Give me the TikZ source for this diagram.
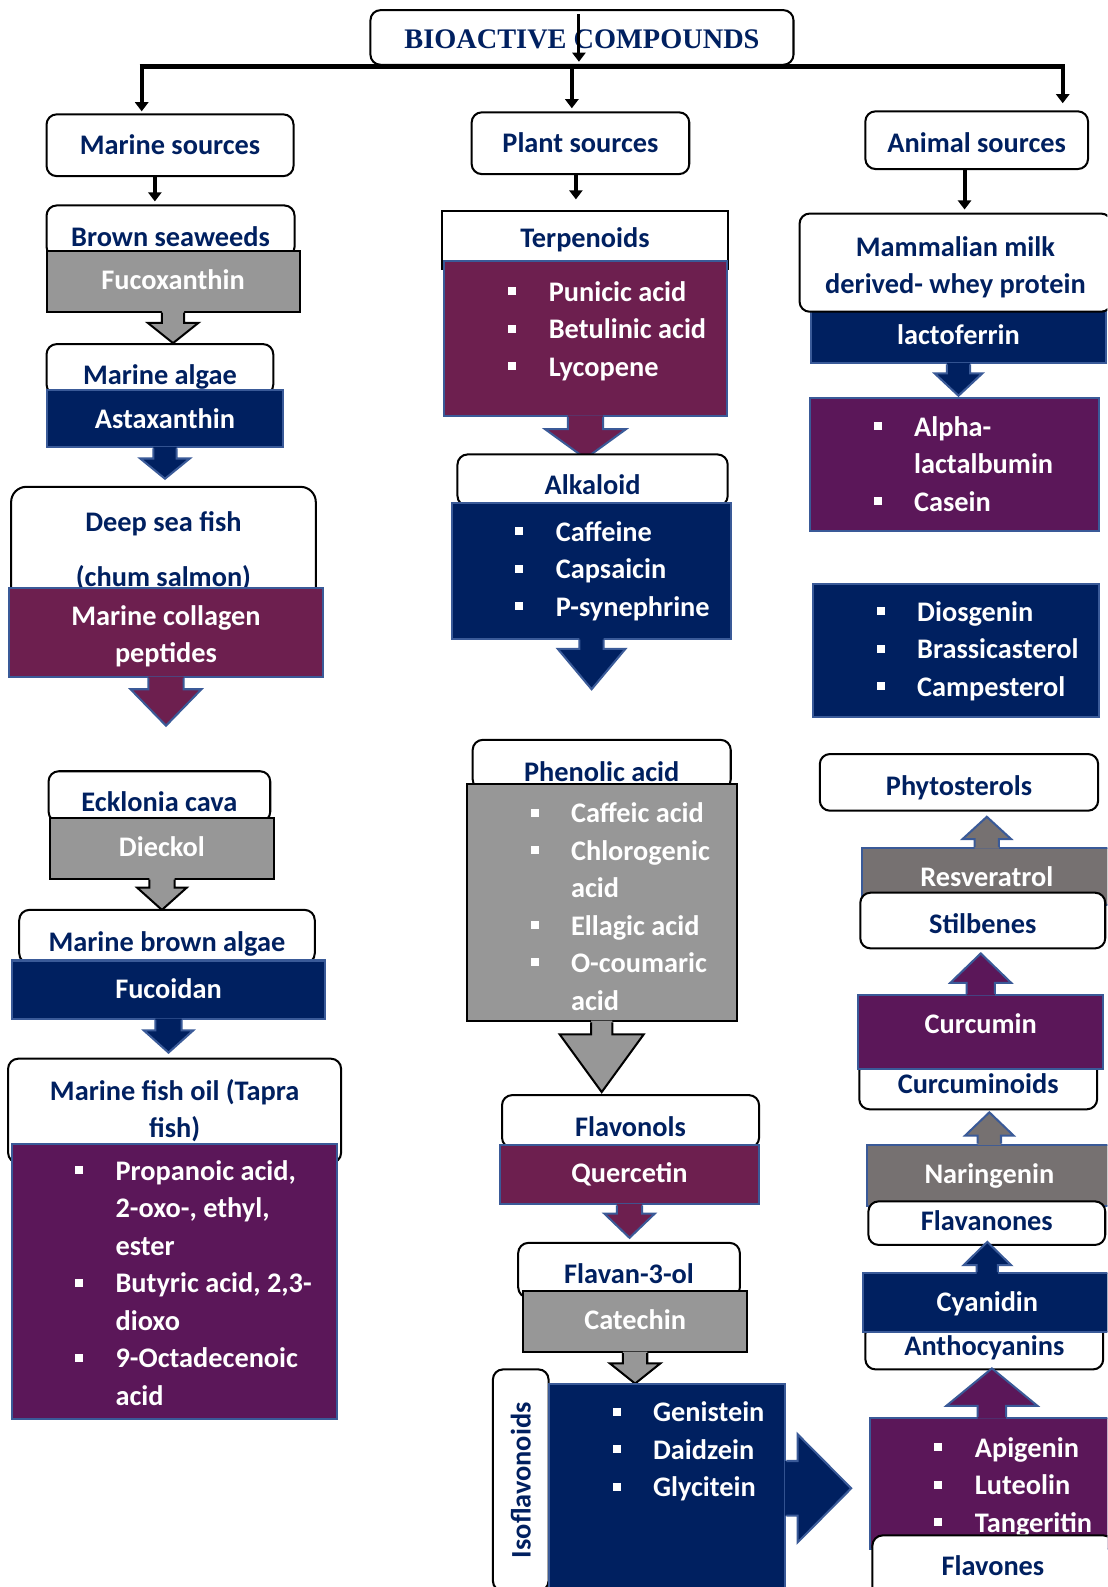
\documentclass[tikz,border=0pt]{standalone}
\usepackage{fontspec}
\setmainfont{Carlito}
\newfontfamily\titlefont{Liberation Serif}
\usetikzlibrary{arrows.meta,calc}

\definecolor{navy}{HTML}{002060}
\definecolor{bblue}{HTML}{3A5A98}
\definecolor{wine}{HTML}{6D1F4F}
\definecolor{plum}{HTML}{5B1759}
\definecolor{lgray}{HTML}{979797}
\definecolor{dgray}{HTML}{767171}

% square bullet of the lists
\newcommand{\sqb}{\rule[6pt]{8pt}{8pt}}

% box with a block arrow: start, rotation, shaft half width, shaft length, head half width, head length, fill, border
\newcommand{\calloutarrow}[8]{%
  \begin{scope}[shift={#1}, rotate=#2]
    \fill[#7] (-#3,-1.5) -- (-#3,#4) -- (-#5,#4) -- (0,#4+#6) -- (#5,#4) -- (#3,#4) -- (#3,-1.5) -- cycle;
    \draw[#8, line width=2pt, line join=miter] (-#3,0) -- (-#3,#4) -- (-#5,#4) -- (0,#4+#6) -- (#5,#4) -- (#3,#4) -- (#3,0);
  \end{scope}}

\begin{document}
\begin{tikzpicture}[x=1pt, y=-1pt,
    every node/.style={font=\bfseries\fontsize{28}{37}\selectfont, inner sep=0pt},
    wbox/.style={draw=black, line width=2pt, fill=white, rounded corners=10pt, text=navy},
    cbox/.style={draw=bblue, line width=2pt, text=white},
    gbox/.style={draw=black, line width=2pt, fill=lgray, text=white},
    hd/.style 2 args={anchor=base, text height=#1pt, text depth=#2pt},
    list/.style={anchor=west, text=white},
    link/.style={line width=4pt, -{Triangle[length=9pt,width=13pt]}}]
    \useasboundingbox (0,0) rectangle (1094,1568);
    \clip (0,0) rectangle (1094,1568);
    \fill[white] (0,0) rectangle (1094,1568);

    % Title and the three sources
    \node[wbox, hd={38}{16}, minimum width=418, font=\titlefont\bfseries\fontsize{28}{37}\selectfont] (title) at (575,48) {BIOACTIVE COMPOUNDS};
    \node[wbox, hd={40}{21}, minimum width=244] (marine) at (168,153) {Marine sources};
    \node[wbox, hd={40}{21}, minimum width=215] (plant) at (573.5,151) {Plant sources};
    \node[wbox, hd={41}{16}, minimum width=220] (animal) at (965,151) {Animal sources};

    % Marine column
    \node[wbox, hd={41}{10}, minimum width=245] (brown) at (168.5,244) {Brown seaweeds};
    \node[gbox, hd={38}{22}, minimum width=250] (fuco) at (171,286) {Fucoxanthin};
    \calloutarrow{(fuco.south)}{0}{11}{10}{25}{20}{lgray}{black}
    \node[wbox, hd={40}{10}, minimum width=224] (algae) at (158,380) {Marine algae};
    \node[cbox, fill=navy, hd={38}{19}, minimum width=234] (asta) at (163,423) {Astaxanthin};
    \calloutarrow{(asta.south)}{0}{11.5}{10}{24.5}{20}{navy}{bblue}
    \node[wbox, rounded corners=15pt, align=center, minimum width=301, minimum height=127] (deep) at (161.5,544.5) {Deep sea fish\\[18pt](chum salmon)};
    \node[cbox, fill=wine, minimum width=310, minimum height=88] (coll) at (164,625) {\raisebox{-4pt}[\height][\depth]{\begin{tabular}{@{}c@{}}Marine collagen\\peptides\end{tabular}}};
    \calloutarrow{(coll.south)}{0}{17.5}{11}{35}{36}{wine}{bblue}

    \node[wbox, hd={40}{10}, minimum width=219] (eck) at (157.5,802) {Ecklonia cava};
    \node[gbox, hd={38}{22}, minimum width=222] (dieckol) at (160,846) {Dieckol};
    \calloutarrow{(dieckol.south)}{0}{12.5}{8}{24.5}{22}{lgray}{black}
    \node[wbox, hd={41}{12}, minimum width=292] (mba) at (165,940) {Marine brown algae};
    \node[cbox, fill=navy, hd={38}{20}, minimum width=309] (fucoidan) at (166.5,987) {Fucoidan};
    \calloutarrow{(fucoidan.south)}{0}{13}{10}{24.5}{22}{navy}{bblue}
    \node[wbox, align=center, minimum width=329, minimum height=103] (fishoil) at (172.5,1097.5) {Marine fish oil (Tapra\\fish)};
    \node[cbox, fill=plum, minimum width=321, minimum height=272] (fishbox) at (172.5,1266) {};
    \node[list] (fishL) at (74,1270) {\begin{tabular}{@{}l@{\hspace{32pt}}l@{}}
        \sqb & Propanoic acid,\\ & 2-oxo-, ethyl,\\ & ester\\
        \sqb & Butyric acid, 2,3-\\ & dioxo\\
        \sqb & 9-Octadecenoic\\ & acid\end{tabular}};

    % Plant column
    \node[wbox, sharp corners, hd={37}{21}, minimum width=282] (terp) at (578,245) {Terpenoids};
    \node[cbox, fill=wine, minimum width=279, minimum height=153] (terpbox) at (578.5,334.5) {};
    \node[list] (terpL) at (502,327.5) {\begin{tabular}{@{}l@{\hspace{32pt}}l@{}}
        \sqb & Punicic acid\\ \sqb & Betulinic acid\\ \sqb & Lycopene\end{tabular}};
    \calloutarrow{(terpbox.south)}{0}{17.5}{12}{40}{29}{wine}{bblue}
    \node[wbox, hd={40}{11}, minimum width=267] (alk) at (585.5,489) {Alkaloid};
    \node[cbox, fill=navy, minimum width=275, minimum height=134] (alkbox) at (584.5,564) {};
    \node[list] (alkL) at (509,564.5) {\begin{tabular}{@{}l@{\hspace{32pt}}l@{}}
        \sqb & Caffeine\\ \sqb & Capsaicin\\ \sqb & P-synephrine\end{tabular}};
    \calloutarrow{(alkbox.south)}{0}{12}{9}{33.5}{40}{navy}{bblue}

    \node[wbox, hd={41}{8}, minimum width=255] (phen) at (594.5,772) {Phenolic acid};
    \node[gbox, minimum width=267, minimum height=234] (phenbox) at (594.5,892) {};
    \node[list] (phenL) at (524,898) {\begin{tabular}{@{}l@{\hspace{32pt}}l@{}}
        \sqb & Caffeic acid\\ \sqb & Chlorogenic\\ & acid\\
        \sqb & Ellagic acid\\ \sqb & O-coumaric\\ & acid\end{tabular}};
    \calloutarrow{(phenbox.south)}{0}{10.5}{12}{41.5}{57}{lgray}{black}
    \node[wbox, hd={41}{11}, minimum width=254] (flavonols) at (623,1123) {Flavonols};
    \node[cbox, fill=wine, hd={37}{22}, minimum width=256] (querc) at (622,1168) {Quercetin};
    \calloutarrow{(querc.south)}{0}{12.5}{8}{25}{24}{wine}{bblue}
    \node[wbox, hd={40}{14}, minimum width=219] (flavan) at (621.5,1268) {Flavan-3-ol};
    \node[gbox, hd={38}{22}, minimum width=221] (catechin) at (627.5,1314) {Catechin};
    \calloutarrow{(catechin.south)}{0}{12}{10}{25}{20}{lgray}{black}
    \node[wbox, rotate=90, minimum width=219, minimum height=55] (iso) at (514.5,1462.5) {Isoflavonoids};
    \node[cbox, fill=navy, minimum width=234, minimum height=207] (isobox) at (659,1470.5) {};
    \node[list] (isoL) at (605,1434.5) {\begin{tabular}{@{}l@{\hspace{32pt}}l@{}}
        \sqb & Genistein\\ \sqb & Daidzein\\ \sqb & Glycitein\end{tabular}};
    \calloutarrow{(isobox.east)}{90}{27}{11}{53.5}{53}{navy}{bblue}

    % Animal column
    \node[cbox, fill=navy, hd={34}{19}, minimum width=292] (lacto) at (947,340) {lactoferrin};
    \node[wbox, minimum width=308, minimum height=97] (milk) at (944,259.5) {\raisebox{-5pt}[\height][\depth]{\begin{tabular}{@{}c@{}}Mammalian milk\\derived- whey protein\end{tabular}}};
    \calloutarrow{(lacto.south)}{0}{11.5}{9}{23.5}{22}{navy}{bblue}
    \node[cbox, fill=plum, minimum width=286, minimum height=132] (alphabox) at (943,459) {};
    \node[list] (alphaL) at (863,460.5) {\begin{tabular}{@{}l@{\hspace{32pt}}l@{}}
        \sqb & Alpha-\\ & lactalbumin\\ \sqb & Casein\end{tabular}};
    \node[cbox, fill=navy, minimum width=283, minimum height=131] (diosbox) at (944.5,642.5) {};
    \node[list] (diosL) at (866,643.5) {\begin{tabular}{@{}l@{\hspace{32pt}}l@{}}
        \sqb & Diosgenin\\ \sqb & Brassicasterol\\ \sqb & Campesterol\end{tabular}};

    % going up to the phytosterols
    \node[wbox, hd={41}{15}, minimum width=275] (phyto) at (947.5,786) {Phytosterols};
    \node[cbox, fill=dgray, hd={38}{18}, minimum width=246] (resv) at (975,876) {Resveratrol};
    \calloutarrow{(resv.north)}{180}{12}{8}{24}{22}{dgray}{bblue}
    \node[wbox, hd={40}{15}, minimum width=242] (stilb) at (971,922) {Stilbenes};
    \node[wbox, hd={32}{16}, minimum width=235] (curcoids) at (966.5,1080) {Curcuminoids};
    \node[cbox, fill=plum, hd={38}{35}, minimum width=242] (curc) at (969,1021) {Curcumin};
    \calloutarrow{(curc.north)}{180}{14}{11}{30}{29}{plum}{bblue}
    \node[cbox, fill=dgray, hd={38}{23}, minimum width=241] (naring) at (977.5,1169) {Naringenin};
    \calloutarrow{(naring.north)}{180}{11.5}{8}{24}{23}{dgray}{bblue}
    \node[wbox, hd={29}{14}, minimum width=234] (flavanones) at (975,1216) {Flavanones};
    \node[wbox, hd={31}{14}, minimum width=235] (antho) at (972.5,1339) {Anthocyanins};
    \node[cbox, fill=navy, hd={38}{20}, minimum width=245] (cyan) at (975.5,1296) {Cyanidin};
    \calloutarrow{(cyan.north)}{180}{10.5}{7}{23.5}{23}{navy}{bblue}
    \node[cbox, fill=plum, minimum width=240, minimum height=129] (flavbox) at (980,1465.5) {};
    \calloutarrow{(flavbox.north)}{180}{14}{11}{45}{37}{plum}{bblue}
    \node[list] (flavL) at (923,1469.5) {\begin{tabular}{@{}l@{\hspace{32pt}}l@{}}
        \sqb & Apigenin\\ \sqb & Luteolin\\ \sqb & Tangeritin\end{tabular}};
    \node[wbox, hd={40}{28}, minimum width=238] (flavones) at (981,1557) {Flavones};

    % Tree lines from the title
    \coordinate (barL) at (140,66);
    \coordinate (barM) at (565,66);
    \coordinate (barR) at (1050,66);
    \draw[link, line width=3pt] ($(title.north)+(-3,5)$) -- ($(title.south)+(-3,-4)$);
    \draw[line width=5pt] ($(barL)+(-2,0)$) -- ($(barR)+(2,0)$);
    \draw[link] (barL) -- ($(barL |- marine.north)+(0,-2)$);
    \draw[link] (barM) -- ($(barM |- plant.north)+(0,-3)$);
    \draw[link] (barR) -- ($(barR |- animal.north)+(0,-7)$);
    \draw[link] ($(marine.south)+(-15,0)$) -- ($(marine.south |- brown.north)+(-15,-3)$);
    \draw[link] ($(plant.south)+(-4.5,0)$) -- ($(plant.south |- terp.north)+(-4.5,-10)$);
    \draw[link] ($(animal.south)+(-12,0)$) -- ($(animal.south |- milk.north)+(-12,-3)$);
\end{tikzpicture}
\end{document}
